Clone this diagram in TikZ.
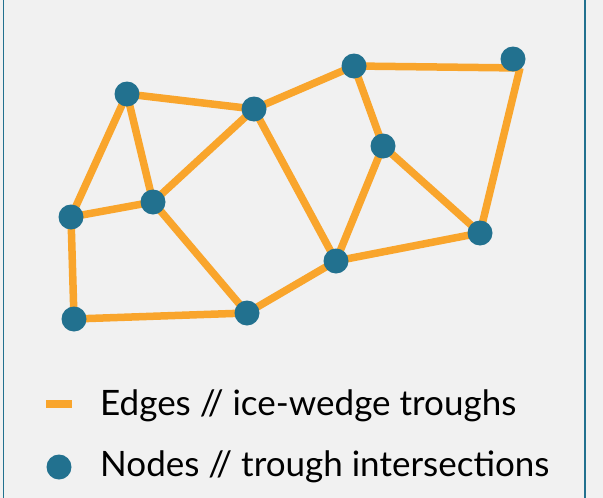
\documentclass[tikz,border=0pt]{standalone}
\usepackage{fontspec}
\setmainfont{Lato}
\definecolor{bgc}{HTML}{F1F1F1}
\definecolor{edgec}{HTML}{F9A52C}
\definecolor{nodec}{HTML}{22718F}
\begin{document}
\begin{tikzpicture}[x=1pt,y=-1pt,
  vtx/.style={circle,fill=nodec,inner sep=0pt,minimum size=25pt},
  edg/.style={draw=edgec,line width=7.5pt},
  lbl/.style={anchor=west,inner sep=0pt,font=\fontsize{35}{40}\selectfont}]
\fill[bgc] (0,0) rectangle (603,498);
\useasboundingbox (0,0) rectangle (603,498);
\draw[nodec,line width=1.6pt] (3.5,-5) -- (3.5,503);
\draw[nodec,line width=1.6pt] (585,-5) -- (585,503);
\coordinate (A) at (127,94);
\coordinate (B) at (254,109);
\coordinate (C) at (354,66);
\coordinate (D) at (513,59);
\coordinate (E) at (383,146);
\coordinate (F) at (71,217);
\coordinate (G) at (153,202);
\coordinate (H) at (480,233);
\coordinate (I) at (336,261);
\coordinate (J) at (74,319);
\coordinate (K) at (247,313);
\coordinate (Dc) at (520,68);
\foreach \u/\v in {A/B,A/F,A/G,B/G,B/C,B/I,C/E,E/I,E/H,F/G,F/J,G/K,J/K,K/I,I/H,Dc/H}
  \draw[edg] (\u) -- (\v);
\draw[edg] (C) -- (Dc);
\foreach \n in {A,B,C,D,E,F,G,H,I,J,K}
  \node[vtx] (n\n) at (\n) {};
\coordinate (le1) at (46,404);
\coordinate (le2) at (72,404);
\draw[draw=edgec,line width=7.5pt] (le1) -- (le2);
\node[lbl] (t1) at (100,406) {Edges // ice-wedge troughs};
\node[lbl] (t2) at (100,467) {Nodes // trough intersections};
\node[vtx] (ln) at (59,467) {};
\end{tikzpicture}
\end{document}
